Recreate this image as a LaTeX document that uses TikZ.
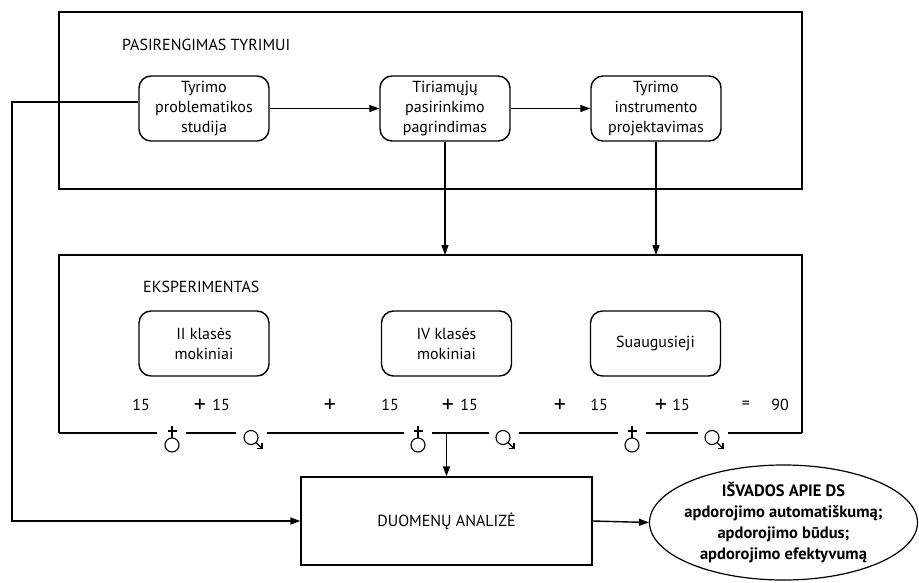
\documentclass[tikz,border=0pt]{standalone}
\usepackage{fontspec}
\setmainfont{PT Sans}
\usetikzlibrary{arrows.meta,shapes.geometric}
\tikzset{
  line/.style={line width=1.4pt, draw=black},
  arr/.style={line, -{Triangle[length=10pt,width=7pt]}},
  rbox/.style={draw, line width=1.4pt, rounded corners=12pt, minimum width=130pt, minimum height=65pt,
    inner sep=0pt, align=center, font=\fontsize{16}{20}\selectfont},
  txt/.style={font=\fontsize{16}{20}\selectfont, inner sep=0pt},
  plus/.style={font=\fontsize{24}{24}\selectfont, inner sep=0pt},
  sym/.style={line width=1.1pt},
}
\begin{document}
\begin{tikzpicture}[x=1pt,y=-1pt]
\useasboundingbox (0,0) rectangle (919,583);
% top frame
\node[draw, line width=1.4pt, minimum width=743pt, minimum height=177pt, inner sep=0pt] (top) at (430.5,100.5) {};
\node[txt, anchor=west] (tl) at (122,45) {PASIRENGIMAS TYRIMUI};
\node[rbox] (b1) at (204,108.5) {Tyrimo\\problematikos\\studija};
\node[rbox] (b2) at (445,108.5) {Tiriamųjų\\pasirinkimo\\pagrindimas};
\node[rbox] (b3) at (656,108.5) {Tyrimo\\instrumento\\projektavimas};
\draw[arr] (b1.east) -- (b2.west);
\draw[arr] (b2.east) -- (b3.west);
% middle frame
\coordinate (mnw) at (59,255);
\coordinate (mne) at (802,255);
\coordinate (msw) at (59,433);
\coordinate (mse) at (802,433);
\draw[line] (msw) -- (mnw) -- (mne) -- (mse);
\draw[line] (msw) -- (157,433);
\draw[line] (186,433) -- (236,433);
\draw[line] (267,433) -- (404,433);
\draw[line] (432,433) -- (489,433);
\draw[line] (519,433) -- (618,433);
\draw[line] (646,433) -- (698,433);
\draw[line] (728,433) -- (mse);
\node[txt, anchor=west] (ml) at (143,287) {EKSPERIMENTAS};
\node[rbox] (c1) at (204,343.5) {II klasės\\mokiniai};
\node[rbox] (c2) at (446.5,343.5) {IV klasės\\mokiniai};
\node[rbox] (c3) at (655.5,343.5) {Suaugusieji};
\draw[arr] (b2.south) -- (b2.south |- mnw);
\draw[arr] (b3.south) -- (b3.south |- mnw);
% numbers
\node[txt] (n1) at (141,405) {15};
\node[plus] (p1) at (200,406) {+};
\node[txt] (n2) at (221,405) {15};
\node[plus] (p2) at (330,406) {+};
\node[txt] (n3) at (390,405) {15};
\node[plus] (p3) at (448,406) {+};
\node[txt] (n4) at (469,405) {15};
\node[plus] (p4) at (560,406) {+};
\node[txt] (n5) at (599,405) {15};
\node[plus] (p5) at (661,406) {+};
\node[txt] (n6) at (681,405) {15};
\node[txt] (eq) at (746,405) {=};
\node[txt] (n7) at (780,405) {90};
% gender symbols
\foreach \x in {172,418,632}{
  \draw[sym] (\x,445) circle (7);
  \draw[sym] (\x,426) -- (\x,437.5);
  \draw[sym] (\x-4.5,431) -- (\x+4.5,431);
}
\foreach \x in {251,503,712}{
  \draw[sym] (\x,437.5) circle (7);
  \draw[sym] (\x+5,442.5) -- (\x+11,448.5);
  \draw[sym] (\x+5.5,448.5) -- (\x+11,448.5) -- (\x+11,443);
}
% analysis
\node[draw, line width=1.4pt, minimum width=291pt, minimum height=88pt, inner sep=0pt, txt] (d) at (446.5,521) {DUOMENŲ ANALIZĖ};
\coordinate (g) at (446.5,433);
\draw[arr] (g) -- (d.north);
\draw[arr] ([yshift=6.5pt]b1.west) -- (12,102) |- (d.west);
\node[ellipse, draw, line width=1.2pt, minimum width=268pt, minimum height=115pt, inner sep=0pt] (e) at (783.5,522.5) {};
\node[align=center, inner sep=0pt, font=\fontsize{16.5}{21}\bfseries\selectfont] (et) at (e.center) {IŠVADOS APIE DS\\apdorojimo automatiškumą;\\apdorojimo būdus;\\apdorojimo efektyvumą};
\draw[arr] (d.east) -- (e.west);
\end{tikzpicture}
\end{document}
